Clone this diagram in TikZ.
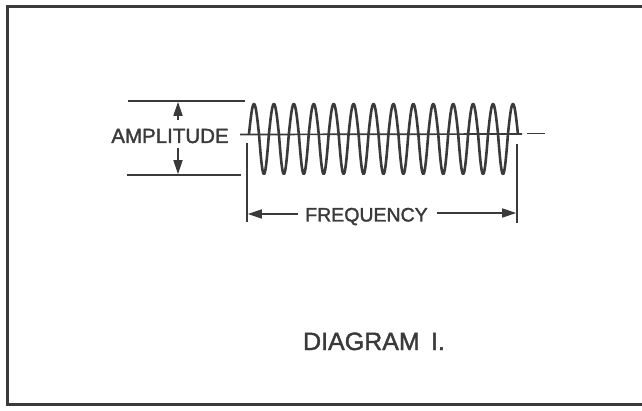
\documentclass[tikz,border=0pt]{standalone}
\usepackage{fontspec}
\setmainfont{Liberation Sans}
\newfontfamily\lettering[FakeBold=1.6]{Liberation Sans}
\usetikzlibrary{arrows.meta}
\definecolor{ink}{HTML}{3A3A3A}
\tikzset{
  frame/.style={draw=ink, line width=3pt},
  thin/.style={draw=ink, line width=1.7pt},
  wave/.style={draw=ink, line width=2.6pt, line join=round},
  arr/.style={thin, -{Triangle[length=14pt,width=9pt]}},
  lbl/.style={text=ink, inner sep=0pt, anchor=base},
}
\begin{document}
\begin{tikzpicture}[x=1pt,y=-1pt]
\useasboundingbox (0,0) rectangle (642,411);
% frame (open on the right)
\draw[frame] (642,7) -- (7,7) -- (7,404) -- (642,404);
% axis
\coordinate (axL) at (240,134.5);
\coordinate (axR) at (522,134);
\coordinate (dashL) at (527,133.5);
\coordinate (dashR) at (545,133.5);
\draw[thin] (axL) -- (axR);
\draw[thin] (dashL) -- (dashR);
% wave
\draw[wave] plot[domain=0:4860, samples=541, smooth] ({249 + \x/360*19.92}, {134 - sin(\x)*(sin(\x)>0 ? 30 : 40)});
% amplitude
\coordinate (topL) at (128,101);
\coordinate (topR) at (245,101);
\coordinate (botL) at (127,175);
\coordinate (botR) at (241,175);
\draw[thin] (topL) -- (topR);
\draw[thin] (botL) -- (botR);
\node[lbl, font=\lettering\fontsize{20.5}{20.5}\selectfont] (amp) at (170,143) {AMPLITUDE};
\coordinate (upS) at (178,120);
\coordinate (upT) at (178,101.8);
\coordinate (dnS) at (178,148);
\coordinate (dnT) at (178,174.2);
\draw[arr] (upS) -- (upT);
\draw[arr] (dnS) -- (dnT);
% frequency
\coordinate (vL1) at (247,143);
\coordinate (vL2) at (247,222);
\coordinate (vR1) at (517,144);
\coordinate (vR2) at (517,223);
\draw[thin] (vL1) -- (vL2);
\draw[thin] (vR1) -- (vR2);
\node[lbl, font=\lettering\fontsize{19.5}{19.5}\selectfont] (freq) at (366.5,221.5) {FREQUENCY};
\coordinate (fL) at (298,214);
\coordinate (fLT) at (247.8,214);
\coordinate (fR) at (437,213);
\coordinate (fRT) at (516.2,213);
\draw[arr] (fL) -- (fLT);
\draw[arr] (fR) -- (fRT);
% caption
\node[lbl, font=\lettering\fontsize{25}{25}\selectfont] (cap) at (374,350) {DIAGRAM\hspace{0.45em}I.};
\end{tikzpicture}
\end{document}
